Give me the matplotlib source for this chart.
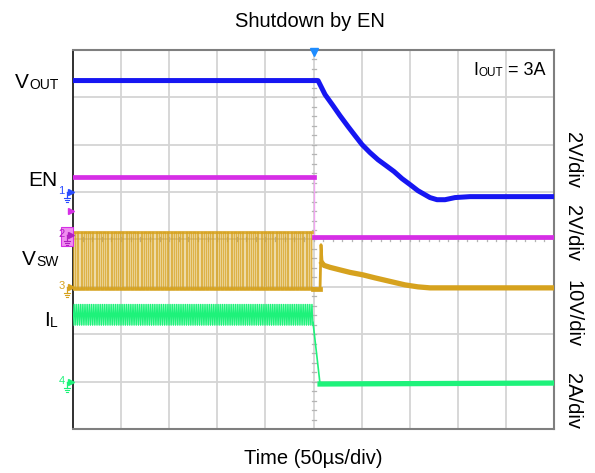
import numpy as np
import matplotlib
matplotlib.use('Agg')
import matplotlib.pyplot as plt

plt.rcParams['font.family'] = ['Liberation Sans', 'DejaVu Sans']

# scope setup: 10 x 8 divisions, 50us/div, EN falls at the trigger (centre)
t_span = 500.0
t_trig = 250.0

# channel scale (per div) and ground position (div from centre)
vout_scale, vout_gnd = 2.0, 1.0
en_scale, en_gnd = 2.0, 0.1
vsw_scale, vsw_gnd = 10.0, -1.0
il_scale, il_gnd = 2.0, -3.0
en_trig_level = 1.0

# V_OUT (us, V)
vout_t = [0, 254.7, 262.0, 270.3, 277.5, 285.9, 293.1, 300.4, 308.7, 317.0, 325.4, 333.7,
          342.0, 350.3, 358.6, 365.9, 371.1, 378.4, 386.7, 397.1, 412.7, 500]
vout_v = [4.71, 4.71, 4.12, 3.65, 3.23, 2.77, 2.39, 2.01, 1.67, 1.37, 1.12, 0.87,
          0.57, 0.32, 0.06, -0.11, -0.23, -0.32, -0.32, -0.23, -0.19, -0.19]

# EN (V)
en_high, en_low = 2.42, -0.1

# V_SW: switching before shutdown, then decaying node voltage
vsw_high, vsw_low = 11.5, -0.5
vsw_pulses = 64
vsw_duty = 0.4
vsw_stop = 249.5
vsw_t = [249.5, 256.8, 257.8, 259.0, 260.9, 267.2, 277.5, 287.9, 301.5, 313.9, 329.5,
         345.1, 358.6, 371.1, 500]
vsw_v = [-0.5, -0.5, 8.9, 5.0, 4.54, 4.12, 3.59, 3.06, 2.53, 1.90, 1.16,
         0.42, 0.0, -0.21, -0.21]

# I_L: ripple before shutdown, then falls to zero
il_peak, il_valley = 3.26, 2.38
il_cycles = 110
il_t = [249.5, 256.8, 500]
il_v = [2.5, -0.1, -0.06]

c_vout = '#1616f2'
c_en = '#d62ee6'
c_vsw = '#d6a21e'
c_il = '#1ef27a'
c_grid = '#d4d4d4'

W, H = 595, 473
fig = plt.figure(figsize=(W / 100, H / 100), dpi=100)
ax = fig.add_axes([73 / W, 1 - 429 / H, 481 / W, 379 / H])
ax.set_xlim(0, t_span)
ax.set_ylim(-4, 4)

PX = t_span / 481.0   # us per pixel
PY = 8 / 379.0        # div per pixel

# graticule
for k in range(1, 10):
    ax.axvline(k * 50, color=c_grid, lw=1.3, zorder=0)
for k in range(-3, 4):
    ax.axhline(k, color=c_grid, lw=1.3, zorder=0)
for y in np.arange(-4, 4.01, 0.2):
    ax.plot([t_trig - 2 * PX, t_trig + 2 * PX], [y, y], color='#b4b4b4', lw=0.9, zorder=0)
for x in np.arange(0, t_span + 0.1, 10):
    ax.plot([x, x], [-2 * PY, 2 * PY], color='#b4b4b4', lw=0.9, zorder=0)

ax.set_xticks([])
ax.set_yticks([])
for s in ['top', 'right', 'bottom']:
    ax.spines[s].set_color('#7f7f7f')
    ax.spines[s].set_linewidth(1.5)
ax.spines['left'].set_color('#202020')
ax.spines['left'].set_linewidth(1.3)


def div(v, scale, gnd):
    return np.asarray(v, dtype=float) / scale + gnd


# V_SW switching region
edges = np.linspace(0, vsw_stop, vsw_pulses + 1)
ax.fill_between([0, vsw_stop], div(vsw_low, vsw_scale, vsw_gnd), div(vsw_high, vsw_scale, vsw_gnd),
                color=c_vsw, alpha=0.28, lw=0, zorder=2)
sq_t, sq_v = [], []
for a in edges[:-1]:
    b = a + vsw_duty * (edges[1] - edges[0])
    sq_t += [a, a, b, b]
    sq_v += [vsw_low, vsw_high, vsw_high, vsw_low]
ax.plot(sq_t, div(sq_v, vsw_scale, vsw_gnd), color=c_vsw, lw=1.0, alpha=0.75, zorder=3)
ax.plot([0, vsw_stop], div([vsw_high] * 2, vsw_scale, vsw_gnd), color=c_vsw, lw=2.2, alpha=0.8, zorder=3)
ax.plot([0, vsw_stop], div([vsw_low] * 2, vsw_scale, vsw_gnd), color=c_vsw, lw=2.6, alpha=0.9, zorder=3)
ax.plot(vsw_t[:4], div(vsw_v[:4], vsw_scale, vsw_gnd), color=c_vsw, lw=2.0, zorder=3)
ax.plot(vsw_t[3:], div(vsw_v[3:], vsw_scale, vsw_gnd), color=c_vsw, lw=3.8, zorder=3,
        solid_joinstyle='round')
ax.plot(vsw_t[:2], div(vsw_v[:2], vsw_scale, vsw_gnd), color=c_vsw, lw=3.4, zorder=3)

# I_L ripple and fall
ax.fill_between([0, 249.5], div(il_valley, il_scale, il_gnd), div(il_peak, il_scale, il_gnd),
                color=c_il, alpha=0.35, lw=0, zorder=2)
rip_t = np.linspace(0, 249.5, 2 * il_cycles + 1)
rip_v = np.where(np.arange(rip_t.size) % 2 == 0, il_valley, il_peak)
ax.plot(rip_t, div(rip_v, il_scale, il_gnd), color=c_il, lw=0.9, zorder=3)
ax.plot(il_t[:2], div(il_v[:2], il_scale, il_gnd), color=c_il, lw=1.2, zorder=3)
ax.plot(il_t[1:], div(il_v[1:], il_scale, il_gnd), color=c_il, lw=3.8, zorder=3)

# EN
ax.plot([t_trig, t_trig], div([en_high, en_low], en_scale, en_gnd), color='#f2a6f2', lw=1.0, zorder=3)
ax.plot([0, t_trig], div([en_high] * 2, en_scale, en_gnd), color=c_en, lw=3.4, zorder=4)
ax.plot([t_trig, t_span], div([en_low] * 2, en_scale, en_gnd), color=c_en, lw=3.4, zorder=4)

# V_OUT
ax.plot(vout_t, div(vout_v, vout_scale, vout_gnd), color=c_vout, lw=3.6, zorder=5,
        solid_joinstyle='round')


# channel ground markers on the left edge
def ground_mark(y, label, color, boxed=False):
    kw = dict(clip_on=False, zorder=6)
    if boxed:
        ax.add_patch(plt.Rectangle((-12 * PX, y - 11.5 * PY), 11.5 * PX, 19 * PY,
                                   facecolor='#f08ef0', edgecolor=color, lw=0.8, **kw))
        color = '#b020c0'
    ax.plot([-2.2 * PX], [y], marker='>', ms=4.5, color=color, mec=color, **kw)
    x0 = -6 * PX
    ax.plot([x0, -3 * PX], [y, y], color=color, lw=0.9, **kw)
    ax.plot([x0, x0], [y, y - 6 * PY], color=color, lw=0.9, **kw)
    for k, w in enumerate([3.0, 2.0, 1.0]):
        ax.plot([x0 - w * PX, x0 + w * PX], [y - (6 + 2 * k) * PY] * 2, color=color, lw=0.8, **kw)
    ax.text(-8.5 * PX, y + 1 * PY, label, color=color, fontsize=8, ha='right', va='center', **kw)


ground_mark(vout_gnd, '1', '#2a4cff')
ground_mark(en_gnd, '2', c_en, boxed=True)
ground_mark(vsw_gnd, '3', c_vsw)
ground_mark(il_gnd, '4', c_il)
ax.plot([-2.2 * PX], [div(en_trig_level, en_scale, en_gnd)], marker='>', ms=4.5,
        color=c_en, clip_on=False, zorder=6)
ax.plot([t_trig], [4 - 2.5 * PY], marker='v', ms=6, color='#1e8cff', clip_on=False, zorder=6)


def fig_text(x, y, s, **kw):
    return fig.text(x / W, 1 - y / H, s, **kw)


def sub_label(x, y, main, sub, size, sub_size, tail=None):
    t = fig_text(x, y, main, fontsize=size, ha='left', va='baseline')
    s = ax.annotate(sub, xy=(1, 0), xycoords=t, xytext=(0.3, 0), textcoords='offset points',
                    fontsize=sub_size, ha='left', va='bottom', annotation_clip=False)
    if tail:
        ax.annotate(tail, xy=(1, 0), xycoords=s, fontsize=size, ha='left', va='bottom',
                    annotation_clip=False)


fig_text(310, 27, 'Shutdown by EN', fontsize=14.5, ha='center', va='baseline')
fig_text(313, 464, 'Time (50µs/div)', fontsize=14.5, ha='center', va='baseline')

sub_label(15, 88, 'V', 'OUT', 15, 10)
fig_text(28, 186, 'EN', fontsize=15, ha='left', va='baseline')
sub_label(22, 265, 'V', 'SW', 15, 10)
sub_label(44, 326, 'I', 'L', 15, 10)
sub_label(473, 75, 'I', 'OUT', 13, 8.5, tail=' = 3A')

for yc, s in zip([160, 233, 314, 401], ['2V/div', '2V/div', '10V/div', '2A/div']):
    fig_text(573, yc, s, fontsize=14.5, rotation=270, ha='center', va='center')

fig.savefig('out.png', dpi=100)
